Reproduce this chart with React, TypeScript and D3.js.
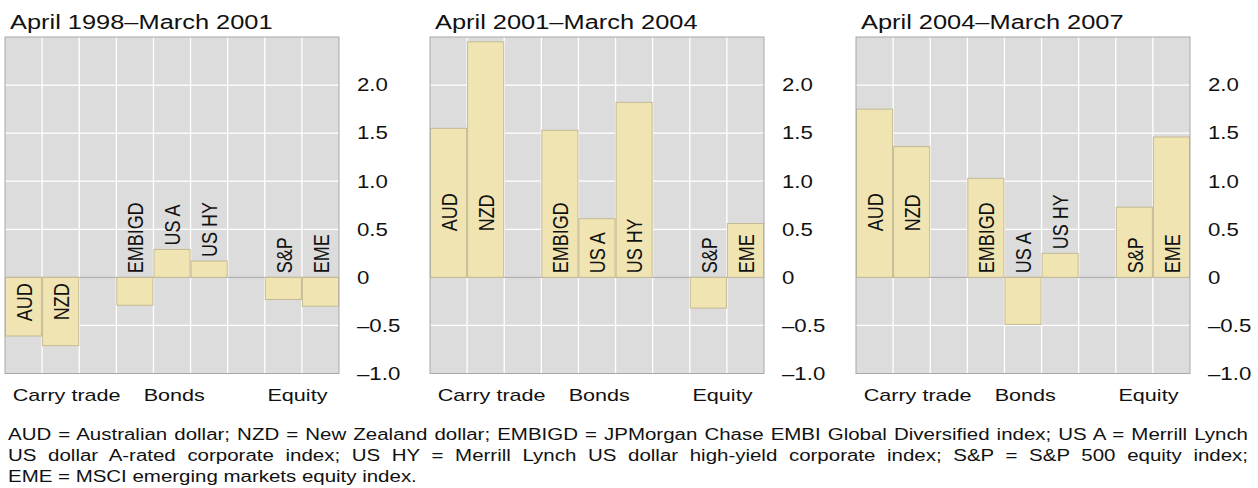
import React, { useLayoutEffect, useRef } from "react";
import * as d3 from "d3";

// ---------- data ----------
const periods = ["April 1998–March 2001", "April 2001–March 2004", "April 2004–March 2007"];
const columns = ["AUD", "NZD", "_gap1", "EMBIGD", "US A", "US HY", "_gap2", "S&P", "EME"];
const assets = ["AUD", "NZD", "EMBIGD", "US A", "US HY", "S&P", "EME"];
const assetGroup = ["Carry trade", "Carry trade", "Bonds", "Bonds", "Bonds", "Equity", "Equity"];
const groups = ["Carry trade", "Bonds", "Equity"];
const values1998 = [-0.61, -0.71, -0.29, 0.29, 0.17, -0.23, -0.3];
const values2001 = [1.55, 2.45, 1.53, 0.61, 1.82, -0.32, 0.56];
const values2004 = [1.75, 1.36, 1.03, -0.49, 0.25, 0.73, 1.46];
const yTicks = [-1, -0.5, 0, 0.5, 1, 1.5, 2];
const gridValues = [-0.5, 0.5, 1, 1.5, 2];
const footnoteLines = [
  "AUD = Australian dollar; NZD = New Zealand dollar; EMBIGD = JPMorgan Chase EMBI Global Diversified index; US A = Merrill Lynch",
  "US dollar A-rated corporate index; US HY = Merrill Lynch US dollar high-yield corporate index; S&P = S&P 500 equity index;",
  "EME = MSCI emerging markets equity index.",
];
const panelValues = [values1998, values2001, values2004];

// ---------- layout ----------
const W = 1258;
const H = 488;
const FONT = "'Liberation Sans', Arial, Helvetica, sans-serif";
const SX = 1.27; // horizontal stretch of the reference typography
const panelLefts = [5, 430, 856];
const panelW = 334;
const plotTop = 37;
const plotBottom = 373.5;
// group label centres, in column units from the panel's left edge
const groupLabelCenter: Record<string, number> = {
  "Carry trade": 1.66,
  Bonds: 4.56,
  Equity: 7.88,
};
const BAR_FONT = 18;

function fmtTick(v: number) {
  if (v === 0) return "0";
  const s = Math.abs(v).toFixed(1);
  return v < 0 ? "\u2013" + s : s;
}

function SText(props: {
  x: number;
  y: number;
  size: number;
  anchor?: string;
  rotate?: number;
  children: React.ReactNode;
  sx?: number;
}) {
  const { x, y, size, anchor = "start", rotate = 0, children, sx = SX } = props;
  return (
    <text
      transform={`translate(${x},${y}) scale(${sx},1)${rotate ? ` rotate(${rotate})` : ""}`}
      fontFamily={FONT}
      fontSize={size}
      textAnchor={anchor}
      fill="#111"
    >
      {children}
    </text>
  );
}

function Panel({ idx }: { idx: number }) {
  const left = panelLefts[idx];
  const values = panelValues[idx];
  const x = d3.scaleBand<string>().domain(columns).range([left, left + panelW]).padding(0);
  const y = d3.scaleLinear().domain([-1, 2.5]).range([plotBottom, plotTop]);
  const bw = x.bandwidth();
  const y0 = y(0);

  // approximate text length for rotated bar labels (Arial metrics)
  const measure = (s: string) => {
    const w: Record<string, number> = {
      A: 0.667, U: 0.722, D: 0.722, N: 0.722, Z: 0.611, E: 0.667, M: 0.833, B: 0.667,
      I: 0.278, G: 0.778, S: 0.667, " ": 0.278, H: 0.722, Y: 0.667, "&": 0.667, P: 0.667,
    };
    return s.split("").reduce((a, c) => a + (w[c] ?? 0.6), 0) * BAR_FONT;
  };

  return (
    <g>
      <SText x={left + 5} y={29} size={20}>
        {periods[idx]}
      </SText>
      <rect x={left} y={plotTop} width={panelW} height={plotBottom - plotTop} fill="#dcdcdc" />
      {gridValues.map((v) => (
        <line key={"h" + v} x1={left} x2={left + panelW} y1={y(v)} y2={y(v)} stroke="#fff" strokeWidth={1.3} />
      ))}
      {columns.slice(1).map((c) => (
        <line key={"v" + c} x1={x(c)!} x2={x(c)!} y1={plotTop} y2={plotBottom} stroke="#fff" strokeWidth={1.3} />
      ))}
      <line x1={left} x2={left + panelW} y1={y0} y2={y0} stroke="#a8a8a8" strokeWidth={1} />
      {assets.map((a, i) => {
        const v = values[i];
        const yt = Math.min(y(v), y0);
        const h = Math.abs(y(v) - y0);
        return (
          <rect
            key={a}
            x={x(a)! + 0.5}
            y={yt}
            width={bw - 1}
            height={h}
            fill="#efe4b2"
            stroke="#c4ba94"
            strokeWidth={1}
          />
        );
      })}
      <rect x={left} y={plotTop} width={panelW} height={plotBottom - plotTop} fill="none" stroke="#a8a8a8" strokeWidth={1} />
      {assets.map((a, i) => {
        const v = values[i];
        const len = measure(a);
        const barH = Math.abs(y(v) - y0);
        const cx = x(a)! + bw / 2 + (BAR_FONT * 0.716 * SX) / 2;
        let yy: number;
        let anchor = "start";
        if (v >= 0) {
          if (len + 8 < barH) {
            yy = assetGroup[i] === "Carry trade" && v > 1.2 ? y0 - 46 : y0 - 4;
          } else {
            yy = y(v) - 4;
          }
        } else {
          if (len + 10 < barH) {
            yy = y0 + 6;
            anchor = "end";
          } else {
            yy = y0 - 4;
          }
        }
        return (
          <SText key={"l" + a} x={cx} y={yy} size={BAR_FONT} anchor={anchor} rotate={-90}>
            {a}
          </SText>
        );
      })}
      {yTicks.map((t) => (
        <SText key={"t" + t} x={left + 352} y={y(t) + 6.3} size={17.5}>
          {fmtTick(t)}
        </SText>
      ))}
      {groups.map((g) => {
        const cx = left + groupLabelCenter[g] * bw;
        return (
          <SText key={g} x={cx} y={401} size={17} anchor="middle">
            {g}
          </SText>
        );
      })}
    </g>
  );
}

function Footnote() {
  const refs = [useRef<SVGTextElement>(null), useRef<SVGTextElement>(null)];
  const FSX = 1.28;
  const target = 1240;
  useLayoutEffect(() => {
    refs.forEach((r, i) => {
      const el = r.current;
      if (!el) return;
      el.setAttribute("word-spacing", "0");
      const natural = el.getComputedTextLength();
      const spaces = (footnoteLines[i].match(/ /g) || []).length;
      const ws = (target / FSX - natural) / spaces;
      el.setAttribute("word-spacing", String(ws));
    });
  }, []);
  const baselines = [440, 461, 482];
  return (
    <g>
      {footnoteLines.map((l, i) => (
        <text
          key={i}
          ref={i < 2 ? refs[i] : undefined}
          transform={`translate(8,${baselines[i]}) scale(${FSX},1)`}
          fontFamily={FONT}
          fontSize={16}
          fill="#111"
        >
          {l}
        </text>
      ))}
    </g>
  );
}

export default function App() {
  return (
    <svg
      width={W}
      height={H}
      style={{ position: "absolute", left: 0, top: 0, background: "#fff" }}
    >
      <rect width={W} height={H} fill="#fff" />
      {periods.map((_, i) => (
        <Panel key={i} idx={i} />
      ))}
      <Footnote />
    </svg>
  );
}
